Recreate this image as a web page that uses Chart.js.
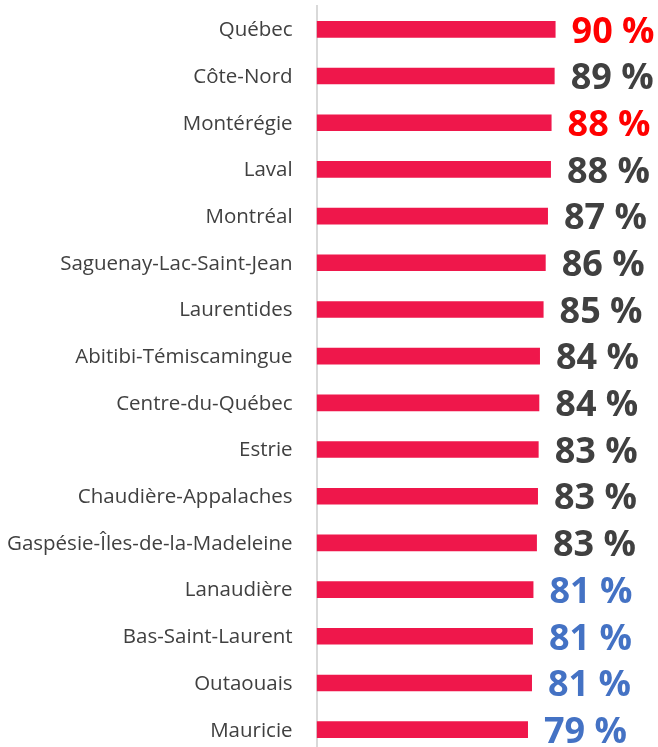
<!DOCTYPE html>
<html>
<head>
<meta charset="utf-8">
<script src="https://cdn.jsdelivr.net/npm/chart.js@4/dist/chart.umd.min.js"></script>
<style>
html,body{margin:0;padding:0;overflow:hidden;background:#fff;}
#wrap{width:658px;height:753px;}
</style>
</head>
<body>
<div id="wrap"><canvas id="c"></canvas></div>
<script>
const categories = ["Québec","Côte-Nord","Montérégie","Laval","Montréal","Saguenay-Lac-Saint-Jean","Laurentides","Abitibi-Témiscamingue","Centre-du-Québec","Estrie","Chaudière-Appalaches","Gaspésie-Îles-de-la-Madeleine","Lanaudière","Bas-Saint-Laurent","Outaouais","Mauricie"];
const values = [89.7,89.35,88.2,87.97,86.85,86.0,85.2,83.85,83.6,83.35,83.1,82.7,81.4,81.2,80.85,79.35];
const labelColors = ["#FF0000","#404040","#FF0000","#404040","#404040","#404040","#404040","#404040","#404040","#404040","#404040","#404040","#4472C4","#4472C4","#4472C4","#4472C4"];

const valueLabels = {
  id:'valueLabels',
  afterDatasetsDraw(chart){
    const ctx = chart.ctx;
    const meta = chart.getDatasetMeta(0);
    ctx.save();
    ctx.font = 'bold 36px "Open Sans"';
    ctx.textAlign = 'left';
    ctx.textBaseline = 'middle';
    meta.data.forEach((bar,i)=>{
      ctx.fillStyle = labelColors[i];
      ctx.fillText(Math.round(values[i]) + ' %', bar.x + 16, bar.y + 3);
    });
    ctx.restore();
  }
};

new Chart(document.getElementById('c'), {
  type:'bar',
  data:{
    labels:categories,
    datasets:[{
      data:values,
      backgroundColor:'#EF174B',
      borderWidth:0,
      barPercentage:0.71,
      categoryPercentage:0.5
    }]
  },
  options:{
    indexAxis:'y',
    responsive:true,
    maintainAspectRatio:false,
    animation:false,
    layout:{padding:{top:6,right:75,bottom:0,left:7}},
    plugins:{legend:{display:false},tooltip:{enabled:false}},
    scales:{
      x:{display:false,min:0,max:100},
      y:{
        grid:{display:false,drawTicks:false},
        border:{display:true,color:'#D9D9D9',width:2},
        ticks:{color:'#404040',font:{family:'"Open Sans"',size:20.5},padding:24,labelOffset:1},
        afterFit(scale){
          scale.paddingTop = 0; scale.paddingBottom = 0;
          const sizes = scale._labelSizes;
          if (sizes && sizes.widest) scale.width = sizes.widest.width + scale.options.ticks.padding;
        }
      }
    }
  },
  plugins:[valueLabels]
});
</script>
</body>
</html>
